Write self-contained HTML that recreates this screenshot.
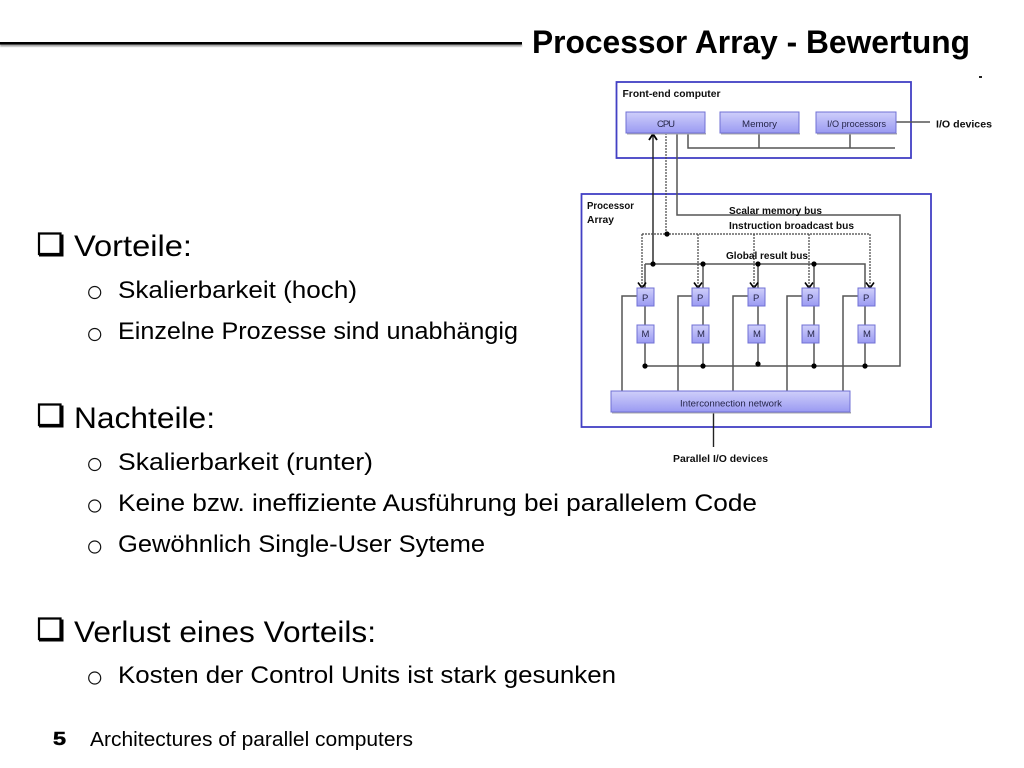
<!DOCTYPE html>
<html><head><meta charset="utf-8"><style>
html,body{margin:0;padding:0;background:#fff;width:1024px;height:768px;overflow:hidden}
svg{display:block}
text{font-family:"Liberation Sans",sans-serif;fill:#000}
.h{font-size:30px}
.s{font-size:24px}
.d text{fill:#111}
.b{font-size:10.5px;font-weight:bold}
.n{font-size:9.5px;fill:#25254a!important}
</style></head><body>
<svg width="1024" height="768" viewBox="0 0 1024 768" xmlns="http://www.w3.org/2000/svg">
<defs>
<linearGradient id="g" x1="0" y1="0" x2="0" y2="1"><stop offset="0" stop-color="#cfcffa"/><stop offset="1" stop-color="#9a9af2"/></linearGradient>
<filter id="bl" x="-5%" y="-5%" width="110%" height="110%"><feGaussianBlur stdDeviation="0.35"/></filter>
<filter id="sh" x="-2%" y="-200%" width="104%" height="500%"><feGaussianBlur stdDeviation="0.8"/></filter>
</defs>
<rect x="0" y="44.5" width="522" height="2" fill="#999" filter="url(#sh)"/>
<rect x="0" y="42" width="522" height="2.6" fill="#000"/>
<text x="532" y="53" font-size="32" font-weight="bold" textLength="438" lengthAdjust="spacingAndGlyphs">Processor Array - Bewertung</text>
<rect x="979" y="76" width="3" height="2" fill="#222"/>

<g class="d" filter="url(#bl)">
<rect x="616.5" y="82" width="294.5" height="76" fill="#fff" stroke="#4340c4" stroke-width="1.8"/>
<rect x="581.5" y="194" width="349.5" height="233" fill="#fff" stroke="#4340c4" stroke-width="1.8"/>
<g fill="none" stroke="#555" stroke-width="1.5">
<path d="M688 133V148H895M759 133V148M850 133V148M896 122H930"/>
<path d="M677 133V215H900V366H645"/>
<path d="M622 391V296H637M678 391V296H692M733 391V296H748M787 391V296H802M843 391V296H858"/>
<path d="M645 264H865V288M645 264V288M703 264V288M758 264V288M814 264V288"/>
<path d="M645 306V325M703 306V325M758 306V325M814 306V325M865 306V325"/>
<path d="M645 343V366M703 343V366M758 343V364M814 343V366M865 343V366"/>
</g>
<path d="M653 263V135" stroke="#222" stroke-width="1.4" fill="none"/>
<path d="M649 140L653 134L657 140" stroke="#000" stroke-width="1.8" fill="none"/>
<path d="M713.5 412V447" stroke="#222" stroke-width="1.4"/>
<g fill="none" stroke="#444" stroke-width="1.2" stroke-dasharray="2 1">
<path d="M666 133V234M642 234H870V286M642 234V286M698 234V286M754 234V286M809 234V286"/>
</g>
<g fill="none" stroke="#000" stroke-width="1.6">
<path d="M638 282.5L642 288L646 282.5M694 282.5L698 288L702 282.5M750 282.5L754 288L758 282.5M805 282.5L809 288L813 282.5M866 282.5L870 288L874 282.5"/>
</g>
<g fill="#000">
<circle cx="667" cy="234" r="2.6"/>
<circle cx="653" cy="264" r="2.6"/><circle cx="703" cy="264" r="2.6"/><circle cx="758" cy="264" r="2.6"/><circle cx="814" cy="264" r="2.6"/>
<circle cx="645" cy="366" r="2.6"/><circle cx="703" cy="366" r="2.6"/><circle cx="758" cy="364" r="2.6"/><circle cx="814" cy="366" r="2.6"/><circle cx="865" cy="366" r="2.6"/>
</g>
<g fill="#aaa">
<rect x="627" y="133" width="79" height="1.5"/><rect x="721" y="133" width="79" height="1.5"/><rect x="817" y="133" width="80" height="1.5"/>
<rect x="612" y="412" width="239" height="1.5"/>
</g>
<g fill="url(#g)" stroke="#6f6fd4" stroke-width="1">
<rect x="626" y="112" width="79" height="21"/>
<rect x="720" y="112" width="79" height="21"/>
<rect x="816" y="112" width="80" height="21"/>
<rect x="637" y="288" width="17" height="18"/><rect x="692" y="288" width="17" height="18"/><rect x="748" y="288" width="17" height="18"/><rect x="802" y="288" width="17" height="18"/><rect x="858" y="288" width="17" height="18"/>
<rect x="637" y="325" width="17" height="18"/><rect x="692" y="325" width="17" height="18"/><rect x="748" y="325" width="17" height="18"/><rect x="802" y="325" width="17" height="18"/><rect x="858" y="325" width="17" height="18"/>
<rect x="611" y="391" width="239" height="21"/>
</g>
<text class="b" x="622.5" y="97" textLength="98" lengthAdjust="spacingAndGlyphs">Front-end computer</text>
<text class="n" x="657" y="127" textLength="18" lengthAdjust="spacing">CPU</text>
<text class="n" x="742" y="127" textLength="35" lengthAdjust="spacingAndGlyphs">Memory</text>
<text class="n" x="827" y="127" textLength="59" lengthAdjust="spacingAndGlyphs">I/O processors</text>
<text class="b" x="936" y="127.5" textLength="56" lengthAdjust="spacingAndGlyphs">I/O devices</text>
<text class="b" x="587" y="209" textLength="47" lengthAdjust="spacingAndGlyphs">Processor</text>
<text class="b" x="587" y="223" textLength="27" lengthAdjust="spacingAndGlyphs">Array</text>
<text class="b" x="729" y="214" textLength="93" lengthAdjust="spacingAndGlyphs">Scalar memory bus</text>
<text class="b" x="729" y="229" textLength="125" lengthAdjust="spacingAndGlyphs">Instruction broadcast bus</text>
<text class="b" x="726" y="259" textLength="82" lengthAdjust="spacingAndGlyphs">Global result bus</text>
<text class="n" x="642" y="301">P</text><text class="n" x="697" y="301">P</text><text class="n" x="753" y="301">P</text><text class="n" x="807" y="301">P</text><text class="n" x="863" y="301">P</text>
<text class="n" x="641.5" y="337">M</text><text class="n" x="697" y="337">M</text><text class="n" x="753" y="337">M</text><text class="n" x="807" y="337">M</text><text class="n" x="863" y="337">M</text>
<text class="n" x="680" y="406.5" textLength="102" lengthAdjust="spacingAndGlyphs">Interconnection network</text>
<text class="b" x="673" y="462" textLength="95" lengthAdjust="spacingAndGlyphs">Parallel I/O devices</text>
</g>

<g fill="none" stroke="#000" stroke-width="2.2">
<path d="M39 233.5H60.5V254H39Z"/><path d="M39 404.5H60.5V425H39Z"/><path d="M39 618.5H60.5V639H39Z"/>
</g>
<path d="M39 255H62V234.5" fill="none" stroke="#000" stroke-width="3"/>
<path d="M39 426H62V405.5" fill="none" stroke="#000" stroke-width="3"/>
<path d="M39 640H62V619.5" fill="none" stroke="#000" stroke-width="3"/>

<g fill="none" stroke="#111" stroke-width="1.2">
<circle cx="94.7" cy="292.5" r="6"/><circle cx="94.7" cy="334.5" r="6"/>
<circle cx="94.7" cy="464.5" r="6"/><circle cx="94.7" cy="506" r="6"/><circle cx="94.7" cy="547" r="6"/>
<circle cx="94.7" cy="678" r="6"/>
</g>

<text class="h" x="74" y="256" textLength="118" lengthAdjust="spacingAndGlyphs">Vorteile:</text>
<text class="s" x="118" y="298" textLength="239" lengthAdjust="spacingAndGlyphs">Skalierbarkeit (hoch)</text>
<text class="s" x="118" y="339" textLength="400" lengthAdjust="spacingAndGlyphs">Einzelne Prozesse sind unabhängig</text>
<text class="h" x="74" y="428" textLength="141" lengthAdjust="spacingAndGlyphs">Nachteile:</text>
<text class="s" x="118" y="470" textLength="255" lengthAdjust="spacingAndGlyphs">Skalierbarkeit (runter)</text>
<text class="s" x="118" y="511" textLength="639" lengthAdjust="spacingAndGlyphs">Keine bzw. ineffiziente Ausführung bei parallelem Code</text>
<text class="s" x="118" y="552" textLength="367" lengthAdjust="spacingAndGlyphs">Gewöhnlich Single-User Syteme</text>
<text class="h" x="74" y="642" textLength="302" lengthAdjust="spacingAndGlyphs">Verlust eines Vorteils:</text>
<text class="s" x="118" y="683" textLength="498" lengthAdjust="spacingAndGlyphs">Kosten der Control Units ist stark gesunken</text>
<text x="53" y="745" font-size="18" font-weight="bold" stroke="#000" stroke-width="0.5" textLength="13" lengthAdjust="spacingAndGlyphs">5</text>
<text x="90" y="746" font-size="20.5" textLength="323" lengthAdjust="spacingAndGlyphs">Architectures of parallel computers</text>
</svg>
</body></html>
